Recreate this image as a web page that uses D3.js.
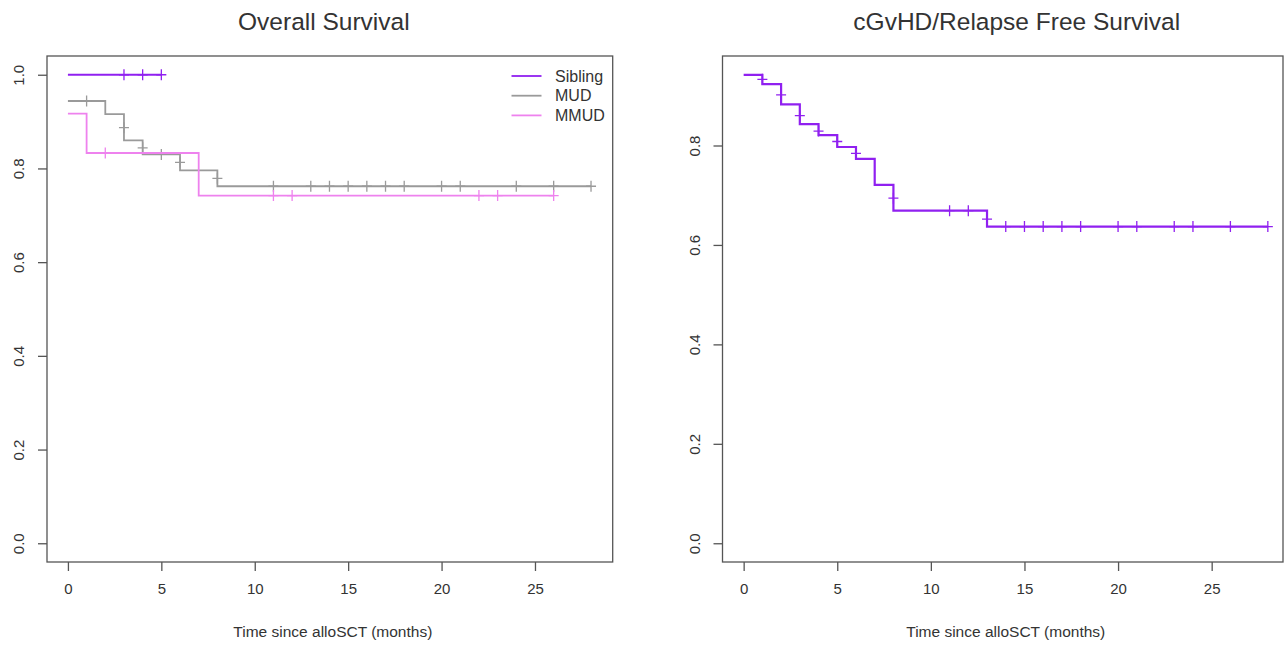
<!DOCTYPE html>
<html>
<head>
<meta charset="utf-8">
<script src="https://cdn.jsdelivr.net/npm/d3@7"></script>
<style>
  body { margin: 0; background: #fff; }
  text { font-family: "Liberation Sans", Arial, sans-serif; fill: #333; }
</style>
</head>
<body>
<script>
var svg_width  = 1288;
var svg_height = 646;

// ---- Overall Survival ----
var sibTimes   = [0];
var sibValues  = [1.0];
var sibEnd     = 5;
var sibCensor  = [[3, 1.0], [4, 1.0], [5, 1.0]];

var mudTimes   = [0, 2, 3, 4, 6, 8];
var mudValues  = [0.944, 0.916, 0.860, 0.830, 0.796, 0.762];
var mudEnd     = 28;
var mudCensor  = [[1, 0.944], [3, 0.887], [4, 0.844], [5, 0.830], [6, 0.813], [8, 0.779],
                  [11, 0.762], [13, 0.762], [14, 0.762], [15, 0.762], [16, 0.762], [17, 0.762],
                  [18, 0.762], [20, 0.762], [21, 0.762], [24, 0.762], [26, 0.762], [28, 0.762]];

var mmudTimes  = [0, 1, 7];
var mmudValues = [0.917, 0.833, 0.742];
var mmudEnd    = 26;
var mmudCensor = [[2, 0.833], [11, 0.742], [12, 0.742], [22, 0.742], [23, 0.742], [26, 0.742]];

var legendLabels = ["Sibling", "MUD", "MMUD"];

// ---- cGvHD/Relapse Free Survival ----
var grfsTimes  = [0, 1, 2, 3, 4, 5, 6, 7, 8, 13];
var grfsValues = [0.942, 0.9235, 0.8826, 0.843, 0.821, 0.797, 0.773, 0.721, 0.669, 0.637];
var grfsEnd    = 28;
var grfsCensor = [[1, 0.933], [2, 0.902], [3, 0.860], [4, 0.829], [5, 0.808], [6, 0.784],
                  [8, 0.694], [11, 0.669], [12, 0.669], [13, 0.652],
                  [14, 0.637], [15, 0.637], [16, 0.637], [17, 0.637], [18, 0.637], [20, 0.637],
                  [21, 0.637], [23, 0.637], [24, 0.637], [26, 0.637], [28, 0.637]];

var xTicks = [0, 5, 10, 15, 20, 25];
var yTicks = [0, 0.2, 0.4, 0.6, 0.8, 1.0];
var xLabel = "Time since alloSCT (months)";

var svg = d3.select('body').append('svg')
            .attr('width', svg_width)
            .attr('height', svg_height);

function drawPanel(p) {
  var x = d3.scaleLinear().domain(p.xDomain).range([p.left, p.right]);
  var y = d3.scaleLinear().domain(p.yDomain).range([p.bottom, p.top]);
  var g = svg.append("g");

  // box
  g.append("rect")
    .attr("x", p.left).attr("y", p.top)
    .attr("width", p.right - p.left).attr("height", p.bottom - p.top)
    .attr("fill", "none").attr("stroke", "#555").attr("stroke-width", 1.3);

  // axes
  var xAxis = g.append("g")
    .attr("transform", "translate(0," + p.bottom + ")")
    .call(d3.axisBottom(x).tickValues(xTicks).tickSize(9).tickPadding(12).tickFormat(d3.format("d")));
  var yAxis = g.append("g")
    .attr("transform", "translate(" + p.left + ",0)")
    .call(d3.axisLeft(y).tickValues(p.yTicks).tickSize(9).tickFormat(d3.format(".1f")));
  [xAxis, yAxis].forEach(function(a) {
    a.select(".domain").remove();
    a.selectAll(".tick line").attr("stroke", "#555").attr("stroke-width", 1.3);
    a.selectAll(".tick text").style("font-size", "15px").attr("fill", "#333");
  });
  yAxis.selectAll(".tick text")
    .attr("x", null).attr("dy", null)
    .attr("text-anchor", "middle")
    .attr("transform", "translate(" + (-(p.left - p.yLabelX)) + ",0) rotate(-90)")
    .attr("dy", "0.35em");

  // titles
  g.append("text")
    .attr("x", (p.left + p.right) / 2 + p.titleShift).attr("y", 30)
    .attr("text-anchor", "middle")
    .style("font-size", "24.5px")
    .text(p.title);
  g.append("text")
    .attr("x", (p.left + p.right) / 2 + 3).attr("y", 637)
    .attr("text-anchor", "middle")
    .style("font-size", "15.5px")
    .text(xLabel);

  var line = d3.line()
    .x(function(d) { return x(d[0]); })
    .y(function(d) { return y(d[1]); })
    .curve(d3.curveStepAfter);

  p.series.forEach(function(s) {
    var pts = s.times.map(function(t, i) { return [t, s.values[i]]; });
    pts.push([s.end, s.values[s.values.length - 1]]);
    g.append("path")
      .attr("d", line(pts))
      .attr("fill", "none")
      .attr("stroke", s.color)
      .attr("stroke-width", s.width);

    g.selectAll(null)
      .data(s.censor)
      .enter().append("path")
      .attr("d", function(d) {
        var cx = x(d[0]), cy = y(d[1]);
        return "M" + (cx - 5) + "," + cy + "H" + (cx + 5) +
               "M" + cx + "," + (cy - 5.5) + "V" + (cy + 5.5);
      })
      .attr("stroke", s.color)
      .attr("stroke-width", s.markWidth);
  });

  if (p.legend) {
    var lg = g.append("g");
    p.series.forEach(function(s, i) {
      var ly = 76 + i * 19.7;
      lg.append("line")
        .attr("x1", 511.5).attr("x2", 541.5)
        .attr("y1", ly).attr("y2", ly)
        .attr("stroke", s.color).attr("stroke-width", 1.8);
      lg.append("text")
        .attr("x", 555).attr("y", ly).attr("dy", "0.35em")
        .style("font-size", "16px")
        .text(legendLabels[i]);
    });
  }
}

drawPanel({
  title: "Overall Survival",
  left: 47, right: 612.7, top: 56, bottom: 562,
  xDomain: [-1.12, 29.16], yDomain: [-0.04, 1.04],
  yTicks: yTicks, yLabelX: 19, titleShift: -6,
  legend: true,
  series: [
    {times: sibTimes,  values: sibValues,  end: sibEnd,  censor: sibCensor,  color: "#9020F0", width: 1.8, markWidth: 1.3},
    {times: mudTimes,  values: mudValues,  end: mudEnd,  censor: mudCensor,  color: "#9a9a9a", width: 1.8, markWidth: 1.3},
    {times: mmudTimes, values: mmudValues, end: mmudEnd, censor: mmudCensor, color: "#EE82EE", width: 1.8, markWidth: 1.3}
  ]
});

drawPanel({
  title: "cGvHD/Relapse Free Survival",
  left: 722.5, right: 1283, top: 56, bottom: 562,
  xDomain: [-1.13, 28.81], yDomain: [-0.0377, 0.98],
  yTicks: [0, 0.2, 0.4, 0.6, 0.8], yLabelX: 695, titleShift: 14,
  legend: false,
  series: [
    {times: grfsTimes, values: grfsValues, end: grfsEnd, censor: grfsCensor, color: "#9020F0", width: 2.2, markWidth: 1.3}
  ]
});
</script>
</body>
</html>
